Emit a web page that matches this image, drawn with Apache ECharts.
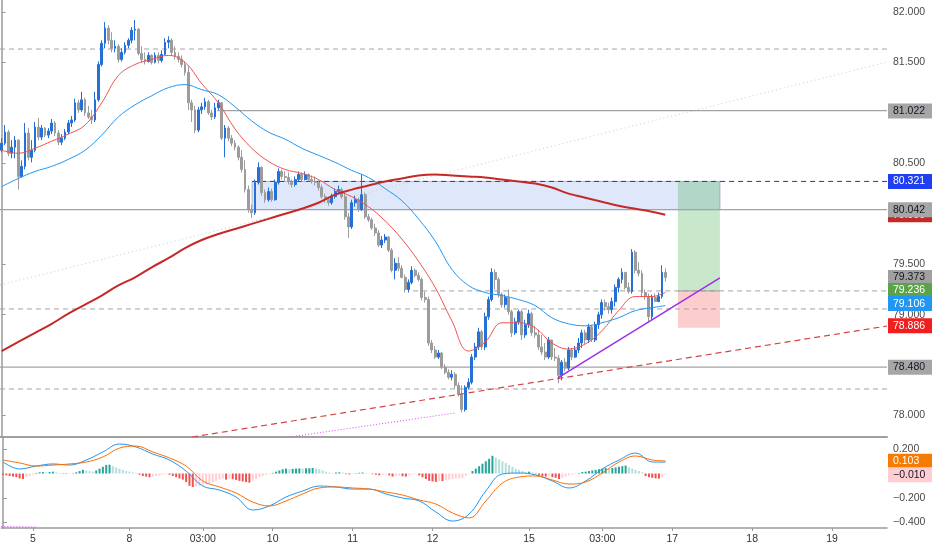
<!DOCTYPE html>
<html><head><meta charset="utf-8">
<script src="https://cdn.jsdelivr.net/npm/echarts@6/dist/echarts.min.js"></script>
<style>html,body{margin:0;padding:0;background:#fff}#c{width:932px;height:550px}</style>
</head><body><div id="c"></div>
<script>
// ---------- DATA ----------
const slotCount = 266;
const firstOpen = 80.63;
const closes = [
80.70,80.81,80.60,80.66,80.73,80.37,80.47,80.80,80.56,80.63,
80.86,80.76,80.85,80.78,80.82,80.90,80.80,80.71,80.75,80.81,
80.90,80.93,81.10,81.03,81.13,81.00,80.96,80.93,81.13,81.48,
81.69,81.84,81.72,81.64,81.66,81.53,81.60,81.67,81.72,81.82,
81.83,81.59,81.53,81.51,81.57,81.50,81.57,81.52,81.58,81.70,
81.72,81.60,81.56,81.53,81.48,81.40,81.10,81.03,80.83,81.03,
81.06,81.11,81.00,80.96,81.05,81.10,80.75,80.85,80.75,80.70,
80.66,80.56,80.44,80.24,80.04,80.01,80.31,80.46,80.21,80.14,
80.22,80.14,80.31,80.42,80.37,80.36,80.32,80.29,80.34,80.39,
80.34,80.39,80.34,80.32,80.31,80.26,80.17,80.14,80.11,80.17,
80.22,80.24,80.17,79.97,79.87,80.11,80.14,80.04,80.19,79.97,
79.94,79.86,79.81,79.69,79.74,79.77,79.64,79.44,79.51,79.46,
79.37,79.25,79.32,79.44,79.39,79.35,79.17,79.15,78.72,78.65,
78.58,78.62,78.48,78.43,78.38,78.41,78.30,78.21,78.06,78.28,
78.33,78.58,78.68,78.83,78.68,78.98,79.15,79.42,79.35,79.20,
79.10,79.17,79.03,78.82,78.93,79.03,78.80,78.90,79.01,78.82,
78.80,78.68,78.63,78.58,78.75,78.58,78.57,78.40,78.53,78.47,
78.65,78.58,78.65,78.72,78.82,78.75,78.88,78.75,78.90,79.00,
79.12,79.08,79.05,79.13,79.27,79.35,79.42,79.27,79.23,79.62,
79.44,79.41,79.22,79.18,78.98,79.17,79.13,79.18,79.42,79.37];
const highs = [
80.75,80.88,80.83,80.73,80.77,80.74,80.53,80.90,80.85,80.73,
80.91,80.95,80.88,80.86,80.85,80.94,80.92,80.83,80.79,80.84,
80.93,80.97,81.14,81.13,81.21,81.15,81.07,81.03,81.21,81.51,
81.72,81.90,81.87,81.80,81.72,81.68,81.64,81.70,81.74,81.85,
81.92,81.84,81.66,81.60,81.60,81.58,81.60,81.60,81.62,81.74,
81.76,81.74,81.66,81.60,81.57,81.51,81.46,81.13,81.07,81.06,
81.10,81.15,81.13,81.03,81.10,81.13,81.11,80.88,80.87,80.78,
80.73,80.68,80.63,80.53,80.28,80.09,80.34,80.51,80.47,80.24,
80.26,80.25,80.34,80.45,80.44,80.42,80.41,80.34,80.37,80.42,
80.41,80.42,80.40,80.38,80.37,80.33,80.29,80.20,80.16,80.20,
80.25,80.28,80.26,80.20,80.01,80.14,80.18,80.16,80.39,80.21,
80.00,79.96,79.90,79.84,79.78,79.80,79.78,79.66,79.56,79.57,
79.49,79.40,79.35,79.48,79.46,79.42,79.37,79.23,79.18,78.75,
78.69,78.65,78.63,78.51,78.46,78.45,78.43,78.33,78.30,78.30,
78.37,78.61,78.72,78.87,78.85,79.02,79.18,79.46,79.45,79.37,
79.22,79.20,79.25,79.05,78.97,79.05,79.05,78.95,79.05,79.03,
78.89,78.85,78.80,78.72,78.78,78.75,78.67,78.60,78.55,78.57,
78.68,78.67,78.69,78.77,78.85,78.85,78.91,78.90,78.93,79.03,
79.15,79.15,79.12,79.17,79.30,79.37,79.46,79.42,79.32,79.65,
79.64,79.52,79.44,79.25,79.21,79.20,79.21,79.22,79.49,79.46];
const lows = [
80.61,80.68,80.57,80.55,80.55,80.24,80.36,80.44,80.53,80.51,
80.61,80.73,80.73,80.76,80.75,80.79,80.77,80.68,80.68,80.73,
80.79,80.86,80.91,81.00,81.01,80.97,80.94,80.89,80.91,81.11,
81.46,81.64,81.68,81.60,81.60,81.50,81.51,81.58,81.64,81.69,
81.72,81.57,81.50,81.48,81.50,81.48,81.49,81.49,81.50,81.57,
81.64,81.57,81.53,81.50,81.45,81.37,81.03,80.91,80.80,80.81,
80.99,81.03,80.98,80.93,80.94,81.03,80.73,80.56,80.72,80.67,
80.63,80.53,80.41,80.21,80.01,79.96,79.99,80.29,80.18,80.11,
80.12,80.12,80.13,80.29,80.34,80.32,80.29,80.26,80.27,80.32,
80.32,80.33,80.32,80.30,80.28,80.23,80.15,80.11,80.08,80.09,
80.15,80.19,80.15,79.94,79.76,79.85,80.07,80.02,80.03,79.95,
79.92,79.84,79.78,79.67,79.66,79.71,79.62,79.42,79.35,79.43,
79.36,79.22,79.22,79.30,79.37,79.33,79.14,79.12,78.69,78.62,
78.56,78.56,78.46,78.41,78.36,78.35,78.27,78.19,78.03,78.04,
78.26,78.31,78.55,78.65,78.65,78.65,78.95,79.13,79.25,79.17,
79.07,79.07,79.00,78.78,78.80,78.90,78.75,78.77,78.87,78.79,
78.77,78.65,78.60,78.55,78.56,78.55,78.54,78.32,78.35,78.44,
78.45,78.55,78.57,78.62,78.67,78.71,78.72,78.73,78.73,78.86,
78.96,79.04,79.01,79.01,79.08,79.22,79.31,79.25,79.21,79.21,
79.41,79.38,79.18,79.15,78.92,78.95,79.13,79.14,79.16,79.33];

// indicator samples (bar index -> value)
const sampleIdx = [0,5,10,15,20,25,30,35,40,45,50,55,60,65,70,75,80,85,90,95,100,105,110,115,120,125,130,135,140,145,150,155,160,165,170,175,180,185,190,195,199];
const maFast = [80.63,80.60,80.65,80.72,80.79,80.88,81.10,81.37,81.48,81.53,81.57,81.50,81.29,81.10,80.84,80.65,80.52,80.44,80.40,80.34,80.24,80.17,80.07,79.93,79.75,79.53,79.27,78.94,78.64,78.73,78.92,78.92,78.87,78.72,78.66,78.71,78.84,79.04,79.18,79.18,79.22];
const maSlow = [80.27,80.35,80.42,80.47,80.54,80.63,80.78,80.96,81.08,81.17,81.25,81.28,81.23,81.18,81.06,80.92,80.81,80.74,80.65,80.58,80.51,80.43,80.36,80.25,80.13,79.95,79.73,79.45,79.29,79.22,79.19,79.15,79.09,78.97,78.91,78.89,78.92,78.97,79.04,79.07,79.09];
const ma200 = [78.64,78.73,78.82,78.91,79.01,79.10,79.19,79.29,79.37,79.47,79.56,79.66,79.74,79.80,79.85,79.90,79.95,80.00,80.05,80.11,80.19,80.24,80.28,80.32,80.35,80.38,80.39,80.38,80.37,80.36,80.34,80.32,80.30,80.26,80.20,80.16,80.12,80.08,80.05,80.02,79.99];
const macdLine = [0.094,0.037,0.061,0.078,0.069,0.110,0.176,0.241,0.216,0.159,0.110,0.020,-0.102,-0.135,-0.192,-0.298,-0.265,-0.192,-0.143,-0.102,-0.110,-0.127,-0.127,-0.167,-0.200,-0.224,-0.314,-0.388,-0.331,-0.143,-0.004,0.004,-0.012,-0.061,-0.118,-0.061,0.037,0.110,0.167,0.094,0.093];
const signalLine = [0.110,0.086,0.061,0.069,0.078,0.094,0.135,0.208,0.224,0.176,0.127,0.061,-0.061,-0.110,-0.159,-0.233,-0.265,-0.224,-0.167,-0.118,-0.110,-0.118,-0.127,-0.151,-0.176,-0.216,-0.249,-0.322,-0.363,-0.224,-0.078,-0.029,-0.020,-0.053,-0.086,-0.069,0.004,0.094,0.143,0.110,0.103];
const histogram = [
-0.010,-0.015,-0.020,-0.025,-0.030,-0.040,-0.045,-0.030,-0.020,-0.010,
0.005,0.010,0.012,0.008,0.012,0.015,0.010,0.005,-0.003,-0.004,
-0.002,0.003,0.010,0.020,0.030,0.025,0.020,0.015,0.025,0.040,
0.055,0.070,0.072,0.060,0.050,0.040,0.030,0.020,0.015,0.010,
0.005,-0.010,-0.020,-0.025,-0.030,-0.025,-0.020,-0.015,-0.010,-0.005,
-0.010,-0.020,-0.030,-0.040,-0.050,-0.070,-0.100,-0.110,-0.105,-0.100,
-0.095,-0.090,-0.080,-0.070,-0.060,-0.050,-0.042,-0.050,-0.044,-0.046,
-0.052,-0.060,-0.065,-0.070,-0.075,-0.060,-0.045,-0.030,-0.020,-0.010,
-0.005,0.005,0.015,0.025,0.035,0.040,0.035,0.038,0.040,0.042,
0.040,0.042,0.043,0.045,0.040,0.035,0.025,0.015,0.008,0.004,
0.008,0.010,0.008,-0.005,-0.008,-0.004,0.003,0.006,0.008,0.005,
0.002,-0.005,-0.010,-0.015,-0.010,-0.008,-0.015,-0.025,-0.020,-0.018,
-0.022,-0.025,-0.015,-0.008,-0.005,-0.015,-0.030,-0.045,-0.060,-0.065,
-0.068,-0.060,-0.062,-0.055,-0.050,-0.045,-0.040,-0.040,-0.035,-0.020,
-0.005,0.020,0.040,0.060,0.080,0.100,0.120,0.145,0.130,0.115,
0.100,0.085,0.070,0.055,0.040,0.030,0.020,0.012,0.015,0.008,
-0.005,-0.015,-0.020,-0.025,-0.020,-0.030,-0.035,-0.045,-0.035,-0.025,
-0.015,-0.010,-0.005,0.004,0.012,0.015,0.020,0.025,0.030,0.035,
0.040,0.045,0.040,0.045,0.050,0.055,0.060,0.065,0.050,0.040,
0.030,0.020,0.010,-0.020,-0.030,-0.035,-0.040,-0.042,-0.030,-0.010];

const xTickIdx = [9,38,60,81,105,129,158,180,201,225,249];
const xTickLabels = ['5','8','03:00','10','11','12','15','03:00','17','18','19'];
const priceTicks = [78.0,79.0,79.5,80.5,81.5,82.0];
const macdTicks = [0.2,-0.2,-0.4];

// drawings (bar index, price)
const dashedLevels = [81.633, 79.057, 78.264];
const fullSolidLevels = [80.042, 78.480];
const level81 = {price: 81.022, from: 64.6};
const zoneBox = {top: 80.321, bottom: 80.042, from: 75.1, to: 215.4};
const position = {target: 80.321, entry: 79.236, stop: 78.870, from: 202.8, to: 215.4};
const entryDashFrom = 123.4;
const redTrend = [[57.1, 77.788], [265.5, 78.888]];
const faintTrend = [[-0.5, 79.294], [265.5, 81.504]];
const pinkTrend = [[86.5, 77.788], [136.0, 78.026]];
const purpleTrend = [[166.8, 78.373], [215.4, 79.364]];
const pinkMacdSeg = [[-0.5, -0.432], [10.0, -0.437]];

const priceTagValues = [79.99, 81.022, 80.321, 80.042, 79.373, 79.236, 79.106, 78.886, 78.480];
const priceTagBg = ['#c62828','#a6a6a6','#1f3ff0','#a6a6a6','#a0a0a0','#5ba34b','#2196f3','#f01e1e','#a6a6a6'];
const priceTagFg = ['#ffffff','#131722','#ffffff','#131722','#131722','#ffffff','#ffffff','#ffffff','#131722'];
const macdTagValues = [0.093, 0.103, -0.010];
const macdTagBg = ['#2196f3','#f57c00','#ffcdd2'];
const macdTagFg = ['#ffffff','#ffffff','#131722'];

// ---------- BUILD ----------
const FONT = 'Liberation Sans, Arial, sans-serif';
const cats = Array.from({length: slotCount}, (_, i) => String(i));
const labelMap = {};
xTickIdx.forEach((i, k) => { labelMap[i] = xTickLabels[k]; });

const candles = closes.map((c, i) => {
  const o = i === 0 ? firstOpen : closes[i - 1];
  return [o, c, Math.min(lows[i], o, c), Math.max(highs[i], o, c)];
});
const pts = (vals) => sampleIdx.map((x, k) => [x, vals[k]]);
const fmtMinus = (v, d) => (v < 0 ? '\u2212' : '') + Math.abs(v).toFixed(d);

function seg(data, color, type, width, z) {
  return { type: 'line', xAxisIndex: 1, yAxisIndex: 0, data: data, symbol: 'none', silent: true,
    lineStyle: { color: color, type: type, width: width }, z: z || 3, animation: false };
}
function tag(v, bg, fg, text) {
  return { yAxis: v, label: { show: true, position: 'end', distance: 1, formatter: text,
    backgroundColor: bg, color: fg, padding: [2, 3, 1, 5], width: 36, lineHeight: 12,
    fontSize: 10.5, fontFamily: FONT, align: 'left' },
    lineStyle: { color: 'rgba(0,0,0,0)', width: 0 } };
}

const histData = histogram.map((v, i) => {
  const p = i ? histogram[i - 1] : 0;
  let col;
  if (v >= 0) col = v >= p ? '#26a69a' : '#b2dfdb';
  else col = v < p ? '#ef5350' : '#ffcdd2';
  return { value: v, itemStyle: { color: col } };
});

const series = [];
// faint dotted trendline + boxes
series.push(Object.assign(seg(faintTrend, '#c9c9c9', [1, 3], 1, 1), {
  markArea: { silent: true, data: [
    [{ coord: [zoneBox.from, zoneBox.top], itemStyle: { color: 'rgba(40,95,225,0.15)', borderColor: '#aab6cc', borderWidth: 1 } },
     { coord: [zoneBox.to, zoneBox.bottom] }],
    [{ coord: [position.from, position.target], itemStyle: { color: 'rgba(76,175,80,0.30)' } },
     { coord: [position.to, position.entry] }],
    [{ coord: [position.from, position.entry], itemStyle: { color: 'rgba(242,60,60,0.26)' } },
     { coord: [position.to, position.stop] }]
  ] }
}));
dashedLevels.forEach(v => series.push(seg([[-0.5, v], [265.5, v]], '#a3a3a3', [5, 4], 1, 2)));
fullSolidLevels.forEach(v => series.push(seg([[-0.5, v], [265.5, v]], '#a3a3a3', 'solid', 1.3, 2)));
series.push(seg([[level81.from, level81.price], [265.5, level81.price]], '#a3a3a3', 'solid', 1.3, 2));
series.push(seg([[zoneBox.from, zoneBox.top], [265.5, zoneBox.top]], '#2d2fb5', [5, 4], 1, 2));
series.push(seg([[entryDashFrom, position.entry], [265.5, position.entry]], '#a3a3a3', [5, 4], 1, 2));
series.push(seg([[position.from, position.entry], [position.to, position.entry]], '#9e9e9e', 'solid', 1, 2));

series.push({
  type: 'candlestick', xAxisIndex: 0, yAxisIndex: 0, data: candles, barWidth: 2.3, z: 4,
  itemStyle: { color: '#2470d6', color0: '#9c9c9c', borderColor: '#2470d6', borderColor0: '#9c9c9c', borderWidth: 1 },
  animation: false, silent: true
});
series.push(seg(redTrend, '#d64545', [6, 4], 1.2, 5));
series.push(seg(pinkTrend, '#e040fb', [1, 2], 1, 5));
series.push(seg(purpleTrend, '#9b30e6', 'solid', 1.5, 5));
series.push({ type: 'line', xAxisIndex: 1, yAxisIndex: 0, data: pts(maFast), symbol: 'none', smooth: 0.4, silent: true,
  lineStyle: { color: '#ef5350', width: 1 }, z: 6, animation: false });
series.push({ type: 'line', xAxisIndex: 1, yAxisIndex: 0, data: pts(maSlow), symbol: 'none', smooth: 0.4, silent: true,
  lineStyle: { color: '#2196f3', width: 1 }, z: 6, animation: false });
series.push({ type: 'line', xAxisIndex: 1, yAxisIndex: 0, data: pts(ma200), symbol: 'none', smooth: 0.4, silent: true,
  lineStyle: { color: '#c62828', width: 2 }, z: 7, animation: false, clip: false,
  markLine: { silent: true, symbol: ['none', 'none'], animation: false,
    data: priceTagValues.map((v, k) => tag(v, priceTagBg[k], priceTagFg[k], v.toFixed(3))) }
});

// MACD pane
series.push({ type: 'bar', xAxisIndex: 2, yAxisIndex: 1, data: histData, barWidth: 2, silent: true, animation: false });
series.push({ type: 'line', xAxisIndex: 3, yAxisIndex: 1, data: pts(macdLine), symbol: 'none', smooth: 0.4, silent: true,
  lineStyle: { color: '#2196f3', width: 1 }, animation: false });
series.push({ type: 'line', xAxisIndex: 3, yAxisIndex: 1, data: pts(signalLine), symbol: 'none', smooth: 0.4, silent: true,
  lineStyle: { color: '#ff6d00', width: 1 }, animation: false, clip: false,
  markLine: { silent: true, symbol: ['none', 'none'], animation: false,
    data: macdTagValues.map((v, k) => tag(v, macdTagBg[k], macdTagFg[k], fmtMinus(v, 3))) }
});
series.push({ type: 'line', xAxisIndex: 3, yAxisIndex: 1, data: pinkMacdSeg, symbol: 'none', silent: true,
  lineStyle: { color: '#e040fb', type: [1, 2], width: 1 }, animation: false });

const axisTextStyle = { color: '#4a4a4a', fontSize: 10.5, fontFamily: FONT };

const option = {
  animation: false,
  backgroundColor: '#ffffff',
  grid: [
    { left: 0, right: 45, top: 0, height: 437 },
    { left: 0, right: 45, top: 438, height: 90 }
  ],
  xAxis: [
    { type: 'category', gridIndex: 0, data: cats, boundaryGap: true,
      axisLine: { show: true, onZero: false, lineStyle: { color: '#a0a0a0', width: 2 } },
      axisTick: { show: false }, axisLabel: { show: false }, splitLine: { show: false } },
    { type: 'value', gridIndex: 0, min: -0.5, max: slotCount - 0.5, show: false },
    { type: 'category', gridIndex: 1, data: cats, boundaryGap: true,
      axisLine: { show: true, onZero: false, lineStyle: { color: '#9a9a9a', width: 1.5 } },
      axisTick: { show: true, alignWithLabel: true, length: 3, interval: (i) => labelMap[i] !== undefined, lineStyle: { color: '#9a9a9a' } },
      axisLabel: Object.assign({ interval: 0, margin: 6, color: '#333', formatter: (v, i) => labelMap[i] || '' }, { fontSize: 10.5, fontFamily: FONT }),
      splitLine: { show: false } },
    { type: 'value', gridIndex: 1, min: -0.5, max: slotCount - 0.5, show: false }
  ],
  yAxis: [
    { type: 'value', gridIndex: 0, position: 'right', min: 77.788, max: 82.119, scale: true,
      axisLine: { show: true, lineStyle: { color: '#9a9a9a', width: 1.5 } },
      axisTick: { show: true, length: 4, customValues: priceTicks, lineStyle: { color: '#9a9a9a' } },
      axisLabel: Object.assign({ customValues: priceTicks, margin: 6, formatter: v => v.toFixed(3) }, axisTextStyle),
      splitLine: { show: false } },
    { type: 'value', gridIndex: 1, position: 'right', min: -0.445, max: 0.29,
      axisLine: { show: true, lineStyle: { color: '#9a9a9a', width: 1.5 } },
      axisTick: { show: true, length: 4, customValues: macdTicks, lineStyle: { color: '#9a9a9a' } },
      axisLabel: Object.assign({ customValues: macdTicks, margin: 6, formatter: v => fmtMinus(v, 3) }, axisTextStyle),
      splitLine: { show: false } }
  ],
  series: series
};

const chart = echarts.init(document.getElementById('c'), null, { renderer: 'canvas' });
chart.setOption(option);
</script>
</body></html>
